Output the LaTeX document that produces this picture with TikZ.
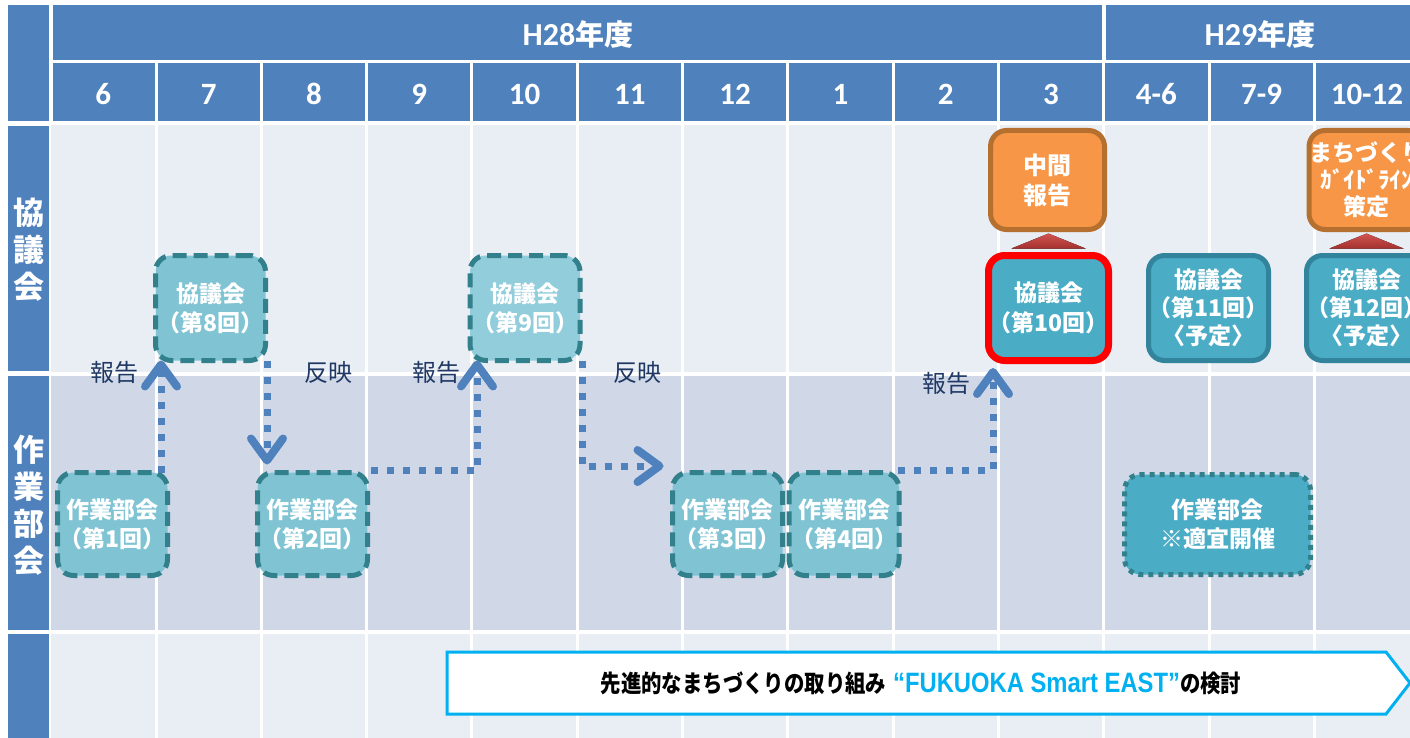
\documentclass[tikz,border=0pt]{standalone}
\usepackage{fontspec}
\usepackage{graphicx}
\usetikzlibrary{arrows.meta,calc}
\newfontfamily\jp{Noto Sans CJK JP}
\newfontfamily\cb{Carlito}
\newfontfamily\lsans{Liberation Sans}
\definecolor{hdr}{HTML}{4F81BD}
\definecolor{rowA}{HTML}{E9EDF4}
\definecolor{rowB}{HTML}{D0D8E8}
\definecolor{tealL}{HTML}{80C4D4}
\definecolor{tealM}{HTML}{92CDDC}
\definecolor{tealF}{HTML}{4BACC6}
\definecolor{tealD}{HTML}{31808C}
\definecolor{tealE}{HTML}{31849B}
\definecolor{orng}{HTML}{F79646}
\definecolor{orngD}{HTML}{B5702F}
\definecolor{navy}{HTML}{1F3864}
\definecolor{cyanB}{HTML}{00B0F0}
\definecolor{arr}{HTML}{4F81BD}
\definecolor{redT}{HTML}{D25552}
\definecolor{redB}{HTML}{A3302D}
\begin{document}
\begin{tikzpicture}[x=1pt,y=-1pt,
  box/.style={rounded corners=16pt, line width=5pt, align=center, text=white, inner sep=0pt, outer sep=0pt,
    font=\jp\bfseries\fontsize{23}{29}\selectfont},
  dbox/.style={box, draw=tealD, fill=tealL, dash pattern=on 14pt off 7pt, minimum width=110pt, minimum height=103pt},
  kbox/.style={box, draw=tealE, fill=tealF, minimum width=114pt, minimum height=105pt, font=\jp\bfseries\fontsize{23}{28}\selectfont},
  obox/.style={box, draw=orngD, fill=orng, minimum width=114pt, minimum height=99pt},
  flow/.style={draw=arr, line width=7pt, dash pattern=on 7pt off 9pt,
    -{Straight Barb[length=22pt,width=32pt,line width=8pt,line cap=round,line join=round]}},
  lbl/.style={text=navy, inner sep=0pt, font=\jp\fontsize{24}{24}\selectfont},
  side/.style={text=white, align=center, inner sep=0pt, font=\jp\bfseries\fontsize{31}{37}\selectfont},
  hd/.style={text=white, inner sep=0pt},
  redtri/.style={top color=redT, bottom color=redB}
]
\useasboundingbox (0,0) rectangle (1410,738);
\fill[white] (0,0) rectangle (1410,738);
% left column
\fill[hdr] (8,5) rectangle (49,121);
\fill[hdr] (8,126) rectangle (49,371);
\fill[hdr] (8,376) rectangle (49,630);
\fill[hdr] (8,634) rectangle (49,740);
% header
\fill[hdr] (53,5) rectangle (1412,60);
\fill[hdr] (53,63) rectangle (1412,121);
% body rows
\fill[rowA] (51,125) rectangle (1412,372);
\fill[rowB] (51,376) rectangle (1412,630);
\fill[rowA] (51,634) rectangle (1412,740);
% white grid lines
\foreach \k in {0,...,11} {
  \fill[white] ({154.5+105.3*\k},60) rectangle ({157.5+105.3*\k},740);
}
\fill[white] (1102,0) rectangle (1106,63);

% header texts
\node[hd] (h28) at (578,34) {{\cb\bfseries\fontsize{32}{32}\selectfont H28}{\jp\bfseries\fontsize{29}{29}\selectfont 年度}};
\node[hd] (h29) at (1260,34) {{\cb\bfseries\fontsize{32}{32}\selectfont H29}{\jp\bfseries\fontsize{29}{29}\selectfont 年度}};
\foreach \t [count=\i] in {6,7,8,9,10,11,12,1,2,3,4-6,7-9,10-12} {
  \node[hd, font=\cb\bfseries\fontsize{31}{31}\selectfont] (m\i) at ({103.35+105.3*(\i-1)},94) {\t};
}
% side labels
\node[side] (s1) at (29,250) {協\\議\\会};
\node[side] (s2) at (29,505) {作\\業\\部\\会};

% boxes
\node[dbox] (w1) at (112.5,524) {作業部会\\（第1回）};
\node[dbox, minimum height=105pt] (k8) at (210.5,308) {協議会\\（第8回）};
\node[dbox] (w2) at (312.5,524) {作業部会\\（第2回）};
\node[dbox, minimum height=105pt, fill=tealM] (k9) at (525,308) {協議会\\（第9回）};
\node[dbox] (w3) at (727.5,524) {作業部会\\（第3回）};
\node[dbox] (w4) at (844,524) {作業部会\\（第4回）};
\node[kbox, draw=red, line width=7pt, font=\jp\bfseries\fontsize{23}{30}\selectfont] (k10) at (1048.5,308) {協議会\\（第10回）};
\node[kbox] (k11) at (1208.5,308) {協議会\\（第11回）\\〈予定〉};
\node[kbox] (k12) at (1366.5,308) {協議会\\（第12回）\\〈予定〉};
\node[obox, font=\jp\bfseries\fontsize{24}{30}\selectfont] (mid) at (1047.5,180) {中間\\報告};
\node[obox, font=\jp\bfseries\fontsize{23}{27}\selectfont] (guide) at (1366.5,180) {まちづくり\\ｶﾞｲﾄﾞﾗｲﾝ\\策定};
\node[box, draw=tealD, fill=tealF, dash pattern=on 5pt off 5pt, minimum width=186pt, minimum height=100pt] (wx) at (1217.5,524.5) {作業部会\\※適宜開催};

% red triangles
\fill[redtri] ($(k10.north)+(-37,-7)$) -- ($(k10.north)+(37,-7)$) -- ($(k10.north)+(0,-22)$) -- cycle;
\fill[redtri] ($(k12.north)+(-37,-7)$) -- ($(k12.north)+(37,-7)$) -- ($(k12.north)+(0,-22)$) -- cycle;

% flows
\draw[flow] ([xshift=48.5pt]w1.north) -- ([xshift=-49.5pt]k8.south);
\draw[flow, shorten >=8pt] ([xshift=56.5pt]k8.south) -- ([xshift=-45.5pt]w2.north);
\draw[flow] ([xshift=3pt,yshift=2.5pt]w2.north east) -| ([xshift=-48pt]k9.south);
\draw[flow, shorten >=9pt] ([xshift=57pt]k9.south) |- ([yshift=6.5pt]w3.north west);
\draw[flow, shorten >=7.5pt] ([xshift=-1pt,yshift=2.5pt]w4.north east) -| ([xshift=-55.5pt]k10.south);

% labels
\node[lbl] (r1) at (114,372) {報告};
\node[lbl] (f1) at (328,372) {反映};
\node[lbl] (r2) at (436,372) {報告};
\node[lbl] (f2) at (637,372) {反映};
\node[lbl] (r3) at (946,383) {報告};

% banner
\draw[cyanB, line width=3pt, fill=white] (447,652) -- (1386,652) -- (1410,683) -- (1386,714) -- (447,714) -- cycle;
\node[inner sep=0pt] (bt) at (921,683) {\scalebox{0.85}[1]{\jp\bfseries\fontsize{24}{24}\selectfont 先進的なまちづくりの取り組み\hspace{8pt}{\color{cyanB}\lsans\bfseries\fontsize{28}{28}\selectfont “FUKUOKA Smart EAST”}の検討}};
\end{tikzpicture}
\end{document}
